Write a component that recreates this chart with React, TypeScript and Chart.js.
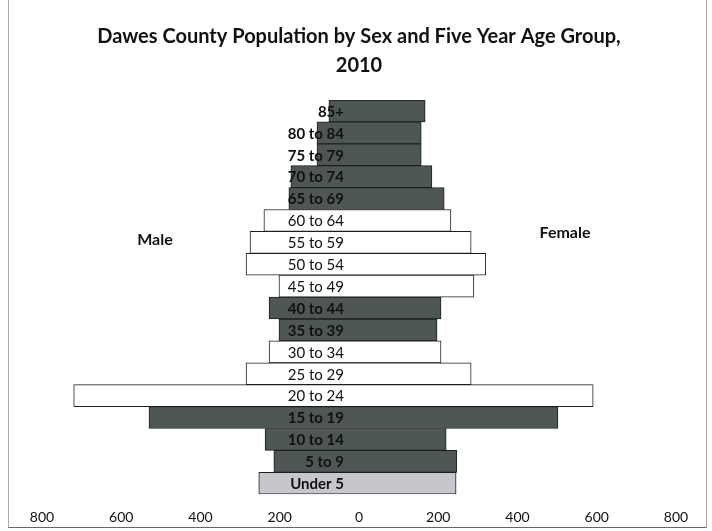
import React, { useEffect, useRef } from 'react';
import { Chart, registerables } from 'chart.js';
Chart.register(...registerables);

const ageGroups = ['85+', '80 to 84', '75 to 79', '70 to 74', '65 to 69', '60 to 64', '55 to 59', '50 to 54', '45 to 49', '40 to 44', '35 to 39', '30 to 34', '25 to 29', '20 to 24', '15 to 19', '10 to 14', '5 to 9', 'Under 5'];
const maleValues = [76, 106, 106, 172, 177, 240, 275, 285, 202, 227, 202, 227, 285, 720, 530, 237, 215, 253];
const femaleValues = [167, 157, 157, 184, 215, 232, 283, 320, 290, 207, 197, 207, 283, 591, 502, 220, 247, 245];
const titleLines = ['Dawes County Population by Sex and Five Year Age Group,', '2010'];
const seriesNames = ['Male', 'Female'];
const axisMin = -800;
const axisMax = 800;
const axisStep = 200;

const barShade = ['d', 'd', 'd', 'd', 'd', 'w', 'w', 'w', 'w', 'd', 'd', 'w', 'w', 'w', 'd', 'd', 'd', 'l'];
const shadeColor: Record<string, string> = { d: '#4f5753', w: '#ffffff', l: '#c8c6cc' };
const FONT = 'Lato, "Open Sans", sans-serif';

const labelPlugin = {
  id: 'pyramidLabels',
  afterDatasetsDraw(chart: any) {
    const { ctx, scales } = chart;
    const xs = scales.x;
    const ys = scales.y;
    const x0 = xs.getPixelForValue(0);
    ctx.save();
    ctx.fillStyle = '#111';
    ctx.textBaseline = 'middle';
    ctx.textAlign = 'right';
    ageGroups.forEach((g, i) => {
      const bold = barShade[i] !== 'w';
      ctx.font = `${bold ? 'bold ' : ''}15px ${FONT}`;
      ctx.fillText(g, x0 - 15, ys.getPixelForValue(i) + 1);
    });
    ctx.textAlign = 'center';
    ctx.font = `bold 16px ${FONT}`;
    ctx.fillText(seriesNames[0], xs.getPixelForValue(-515), ys.getPixelForValue(6) - 3);
    ctx.fillText(seriesNames[1], xs.getPixelForValue(520), ys.getPixelForValue(5.5) + 1);
    ctx.restore();
  },
};

export default function App() {
  const ref = useRef<HTMLCanvasElement>(null);
  useEffect(() => {
    if (!ref.current) return;
    const colors = barShade.map((s) => shadeColor[s]);
    const chart = new Chart(ref.current, {
      type: 'bar',
      data: {
        labels: ageGroups,
        datasets: [
          {
            label: seriesNames[0],
            data: maleValues.map((v) => -v),
            backgroundColor: colors,
            borderColor: '#1e1e1e',
            borderWidth: 1,
            barPercentage: 1,
            categoryPercentage: 1,
          },
          {
            label: seriesNames[1],
            data: femaleValues,
            backgroundColor: colors,
            borderColor: '#1e1e1e',
            borderWidth: 1,
            barPercentage: 1,
            categoryPercentage: 1,
          },
        ],
      },
      options: {
        indexAxis: 'y',
        animation: false,
        responsive: false,
        devicePixelRatio: 1,
        layout: { padding: { left: 42, right: 36, top: 0, bottom: -10 } },
        plugins: {
          legend: { display: false },
          tooltip: { enabled: false },
          title: {
            display: true,
            text: titleLines,
            color: '#111',
            font: { family: FONT, size: 20, weight: 'bold', lineHeight: 1.45 },
            padding: { top: 22, bottom: 20 },
          },
        },
        scales: {
          x: {
            stacked: true,
            min: axisMin,
            max: axisMax,
            grid: { display: false, drawTicks: false },
            border: { display: false },
            ticks: {
              stepSize: axisStep,
              color: '#111',
              padding: 15,
              maxRotation: 0,
              minRotation: 0,
              font: { family: FONT, size: 14 },
              callback: (v: any) => String(Math.abs(Number(v))),
            },
          },
          y: {
            stacked: true,
            display: false,
          },
        },
      },
      plugins: [labelPlugin],
    });
    return () => chart.destroy();
  }, []);
  return (
    <div style={{ position: 'absolute', left: 0, top: 0, width: 712, height: 531, background: '#fff' }}>
      <canvas ref={ref} width={712} height={531} style={{ position: 'absolute', left: 0, top: 0 }} />
      <div style={{ position: 'absolute', left: 8, top: 0, width: 697, height: 527, borderLeft: '1px solid #aaa', borderRight: '1px solid #aaa', borderBottom: '1px solid #666', pointerEvents: 'none' }} />
    </div>
  );
}
